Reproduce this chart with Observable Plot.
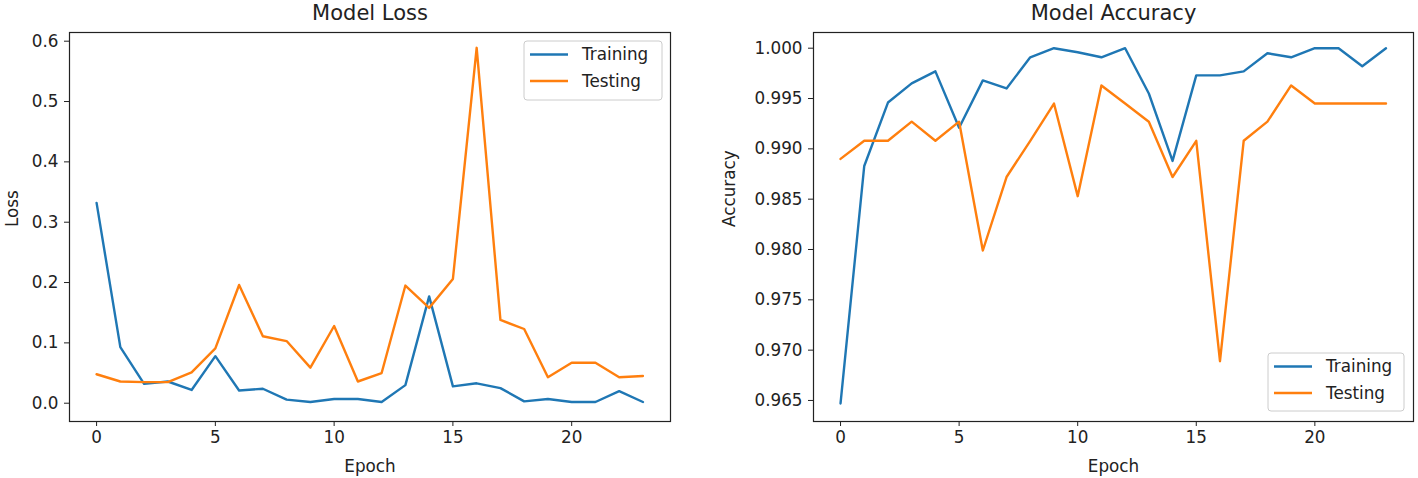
<!DOCTYPE html>
<html>
<head>
<meta charset="utf-8">
<script src="https://cdn.jsdelivr.net/npm/d3@7"></script>
<script src="https://cdn.jsdelivr.net/npm/@observablehq/plot@0.6"></script>
<style>
  html, body { margin: 0; padding: 0; background: #fff; }
  #wrap { position: relative; width: 1418px; height: 478px; overflow: hidden; }
  #left { position: absolute; left: 0; top: 0; }
  #right { position: absolute; left: 700px; top: 0; }
</style>
</head>
<body>
<div id="wrap"><div id="left"></div><div id="right"></div></div>
<script>
// ---- data ----
const epochs = [0,1,2,3,4,5,6,7,8,9,10,11,12,13,14,15,16,17,18,19,20,21,22,23];
const seriesNames = ["Training", "Testing"];
const seriesColors = ["#1f77b4", "#ff7f0e"];
const trainLoss = [0.332,0.093,0.032,0.036,0.022,0.078,0.021,0.024,0.006,0.002,0.007,0.007,0.002,0.030,0.177,0.028,0.033,0.025,0.003,0.007,0.002,0.002,0.020,0.002];
const testLoss  = [0.048,0.036,0.035,0.035,0.051,0.091,0.196,0.111,0.103,0.059,0.128,0.036,0.050,0.195,0.158,0.206,0.589,0.138,0.123,0.043,0.067,0.067,0.043,0.045];
const trainAcc  = [0.9647,0.9883,0.9946,0.9965,0.9977,0.9921,0.9968,0.9960,0.9991,1.0000,0.9996,0.9991,1.0000,0.9955,0.9888,0.9973,0.9973,0.9977,0.9995,0.9991,1.0000,1.0000,0.9982,1.0000];
const testAcc   = [0.9890,0.9908,0.9908,0.9927,0.9908,0.9927,0.9799,0.9872,0.9908,0.9945,0.9853,0.9963,0.9945,0.9927,0.9872,0.9908,0.9689,0.9908,0.9927,0.9963,0.9945,0.9945,0.9945,0.9945];
const epochTicks = [0,5,10,15,20];
const lossTicks = [0.0,0.1,0.2,0.3,0.4,0.5,0.6];
const accTicks = [0.965,0.970,0.975,0.980,0.985,0.990,0.995,1.000];
const titles = ["Model Loss", "Model Accuracy"];
const yLabels = ["Loss", "Accuracy"];
const xLabel = "Epoch";

const toRows = (train, test) => [
  ...epochs.map((e, i) => ({epoch: e, value: train[i], series: seriesNames[0]})),
  ...epochs.map((e, i) => ({epoch: e, value: test[i], series: seriesNames[1]}))
];

const FONT = "DejaVu Sans, sans-serif";
const INK = "#222";
const FS = 16.8;

function panel({rows, yDomain, yTicks, yFmt, title, yLabel, width, marginLeft, marginRight, yLabelDx}) {
  return Plot.plot({
    width, height: 478,
    marginLeft, marginRight, marginTop: 32, marginBottom: 57,
    style: {fontFamily: FONT, fontSize: FS + "px", color: INK, background: "white", overflow: "visible"},
    x: {domain: [-1.14, 24.16]},
    y: {domain: yDomain},
    color: {domain: seriesNames, range: seriesColors},
    marks: [
      Plot.line(rows, {x: "epoch", y: "value", stroke: "series", z: "series", strokeWidth: 2.4}),
      Plot.frame({stroke: INK, strokeWidth: 1.2}),
      Plot.axisX({ticks: epochTicks, tickSize: 5, tickPadding: 5, label: null, stroke: INK, fontSize: FS}),
      Plot.axisY({ticks: yTicks, tickFormat: d3.format(yFmt), tickSize: 5, tickPadding: 6, label: null, stroke: INK, fontSize: FS}),
      Plot.text([title], {frameAnchor: "top", dy: -27, fontSize: 21, fill: INK, text: d => d}),
      Plot.text([xLabel], {frameAnchor: "bottom", dy: 50, fontSize: FS, fill: INK, text: d => d}),
      Plot.text([yLabel], {frameAnchor: "left", dx: yLabelDx, rotate: -90, fontSize: FS, fill: INK, text: d => d})
    ]
  });
}

function addLegend(svg, x, y, w, h) {
  const g = d3.select(svg).append("g").attr("font-family", FONT).attr("font-size", FS + "px");
  g.append("rect").attr("x", x).attr("y", y).attr("width", w).attr("height", h)
    .attr("rx", 3).attr("fill", "white").attr("fill-opacity", 0.8)
    .attr("stroke", "#cccccc").attr("stroke-width", 1);
  seriesNames.forEach((name, i) => {
    const cy = y + 13.5 + i * 26.5;
    g.append("line").attr("x1", x + 6).attr("x2", x + 44).attr("y1", cy).attr("y2", cy)
      .attr("stroke", seriesColors[i]).attr("stroke-width", 2.4);
    g.append("text").attr("x", x + 58).attr("y", cy).attr("dy", "0.35em")
      .attr("text-anchor", "start").attr("fill", INK).text(name);
  });
}

const left = panel({
  rows: toRows(trainLoss, testLoss), yDomain: [-0.0303, 0.6144], yTicks: lossTicks, yFmt: ".1f",
  title: titles[0], yLabel: yLabels[0], width: 700, marginLeft: 69, marginRight: 30, yLabelDx: -57
});
addLegend(left, 524, 41, 138, 59);
document.getElementById("left").appendChild(left);

const right = panel({
  rows: toRows(trainAcc, testAcc), yDomain: [0.96291, 1.00156], yTicks: accTicks, yFmt: ".3f",
  title: titles[1], yLabel: yLabels[1], width: 718, marginLeft: 113, marginRight: 5, yLabelDx: -84
});
addLegend(right, 568, 353, 136, 58);
document.getElementById("right").appendChild(right);
</script>
</body>
</html>
